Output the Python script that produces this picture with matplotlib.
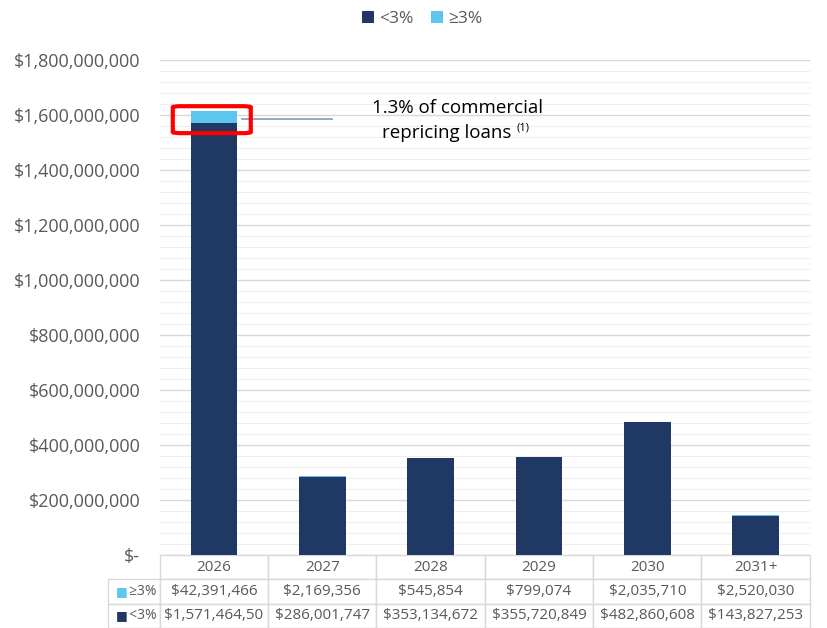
import matplotlib.pyplot as plt
from matplotlib.patches import FancyBboxPatch
from matplotlib.ticker import FuncFormatter, MultipleLocator

plt.rcParams['font.family'] = ['Open Sans', 'DejaVu Sans']

years = ['2026', '2027', '2028', '2029', '2030', '2031+']
ge3 = [42391466, 2169356, 545854, 799074, 2035710, 2520030]
lt3 = [1571464500, 286001747, 353134672, 355720849, 482860608, 143827253]
series_names = ['<3%', '≥3%']

navy = '#1F3864'
sky = '#5DC5EE'
grey_txt = '#595959'

fig = plt.figure(figsize=(8.28, 6.28), dpi=100)
ax = fig.add_axes([0.193, 0.116, 0.785, 0.788])

x = list(range(len(years)))
ax.bar(x, lt3, width=0.43, color=navy, label=series_names[0], zorder=3)
ax.bar(x, ge3, width=0.43, bottom=lt3, color=sky, label=series_names[1], zorder=3)

ax.set_xlim(-0.5, len(years) - 0.5)
ax.set_ylim(0, 1.8e9)
ax.yaxis.set_major_locator(MultipleLocator(2e8))
ax.yaxis.set_minor_locator(MultipleLocator(4e7))
ax.yaxis.set_major_formatter(FuncFormatter(lambda v, p: '$-' if v == 0 else f'${v:,.0f}'))
ax.grid(axis='y', which='major', color='#D9D9D9', linewidth=1, zorder=0)
ax.grid(axis='y', which='minor', color='#EEEEEE', linewidth=0.8, zorder=0)
ax.tick_params(axis='y', which='both', length=0, labelsize=13, colors=grey_txt, pad=14)
ax.tick_params(axis='x', bottom=False, labelbottom=False)
for s in ax.spines.values():
    s.set_visible(False)

# data table under the bars
def money(v):
    return f'${v:,.0f}'[:13]   # cell clips long values in the source

rows = [[''] + years,
        ['     ' + series_names[1]] + [money(v) for v in ge3],
        ['     ' + series_names[0]] + [money(v) for v in lt3]]
lab_w = 52 / 650
tbl = ax.table(cellText=rows, cellLoc='center',
               colWidths=[lab_w] + [1 / 6] * 6,
               bbox=[-lab_w, -73 / 495, 1 + lab_w, 73 / 495])
tbl.auto_set_font_size(False)
for (r, c), cell in tbl.get_celld().items():
    cell.set_edgecolor('#D9D9D9')
    cell.set_linewidth(1)
    cell.get_text().set_color(grey_txt)
    cell.get_text().set_fontsize(11)
    if c == 0:
        cell.get_text().set_fontsize(10)
    if r == 0 and c == 0:
        cell.visible_edges = ''
# coloured keys in the row label cells
ax.text(-lab_w + 0.012, -73 / 495 * 1.5 / 3, '■', color=sky, fontsize=9,
        transform=ax.transAxes, va='center', ha='left', family=['DejaVu Sans'])
ax.text(-lab_w + 0.012, -73 / 495 * 2.5 / 3, '■', color=navy, fontsize=9,
        transform=ax.transAxes, va='center', ha='left', family=['DejaVu Sans'])

# highlight on the 2026 bar
box = FancyBboxPatch((-0.38, 1.535e9), 0.72, 0.098e9,
                     boxstyle='round,pad=0,rounding_size=0.08',
                     mutation_aspect=0.098e9 / 0.72 * 0.35,
                     fill=False, edgecolor='#FF0000', linewidth=3, zorder=5)
ax.add_patch(box)
ax.plot([0.26, 1.09], [1.585e9, 1.585e9], color='#8497B0', linewidth=1.2, zorder=4)
ax.text(2.25, 1.625e9, '1.3% of commercial', ha='center', va='center',
        fontsize=13.5, color='black')
ax.text(2.15, 1.535e9, 'repricing loans', ha='center', va='center',
        fontsize=13.5, color='black')
ax.text(2.79, 1.555e9, '(1)', ha='left', va='center', fontsize=8, color='black')

fig.legend(*ax.get_legend_handles_labels(), loc='center',
           bbox_to_anchor=(0.51, 0.97), ncol=2, frameon=False,
           fontsize=12.5, handlelength=0.7, handleheight=0.7, handletextpad=0.3,
           columnspacing=1.0, labelcolor=grey_txt)

fig.savefig('out.png', dpi=100)
